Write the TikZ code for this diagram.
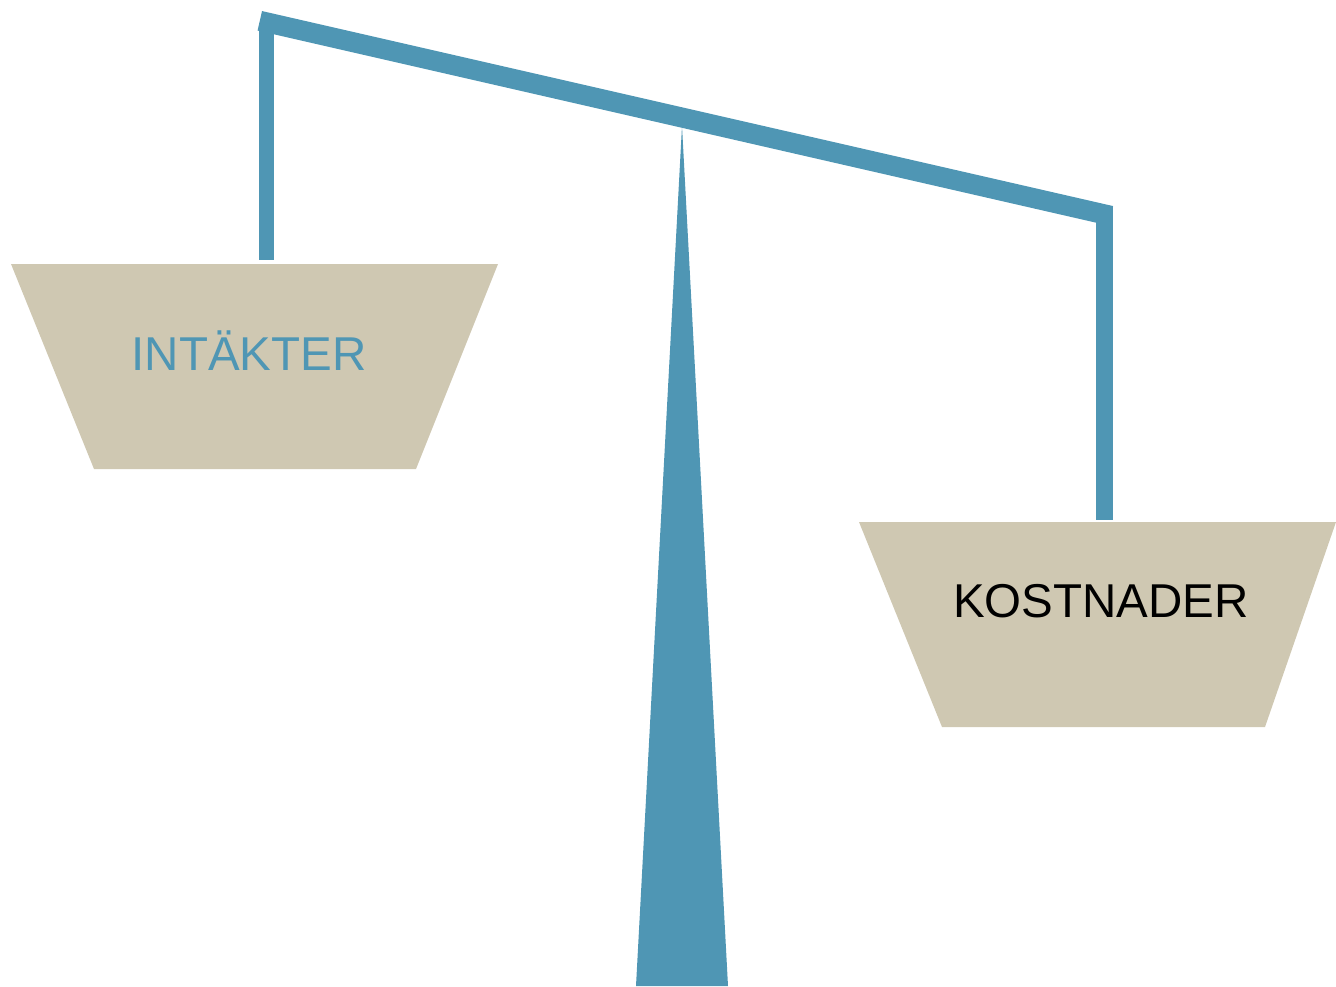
\documentclass[tikz,border=0pt]{standalone}
\usepackage{fontspec}
\setmainfont{Liberation Sans}
\definecolor{scaleblue}{HTML}{4F96B4}
\definecolor{panbeige}{HTML}{CFC8B2}
\begin{document}
\begin{tikzpicture}[x=1pt,y=-1pt,
  beam/.style={draw=scaleblue,line width=20pt,line cap=butt},
  post/.style={fill=scaleblue,draw=none},
  pan/.style={fill=panbeige,draw=none},
  lbl/.style={font=\fontsize{47.5}{55}\selectfont,inner sep=0pt,anchor=center}]
\useasboundingbox (0,0) rectangle (1336,986);
% pole
\fill[scaleblue] (682,126) -- (728,986) -- (636,986) -- cycle;
% posts and beam
\fill[post] (259,25) rectangle (274,260);
\fill[post] (1096,207) rectangle (1113,520);
\coordinate (bl) at (259.8,20.8);
\coordinate (br) at (1110.8,215.8);
\draw[beam] (bl) -- (br);
% pans
\fill[pan] (11,264) -- (498,264) -- (416,469) -- (94,469) -- cycle;
\fill[pan] (859,522) -- (1336,522) -- (1265,727) -- (942,727) -- cycle;
\node[lbl,text=scaleblue] (inc) at (249,351) {INTÄKTER};
\node[lbl,text=black] (cost) at (1101,601) {KOSTNADER};
\end{tikzpicture}
\end{document}
